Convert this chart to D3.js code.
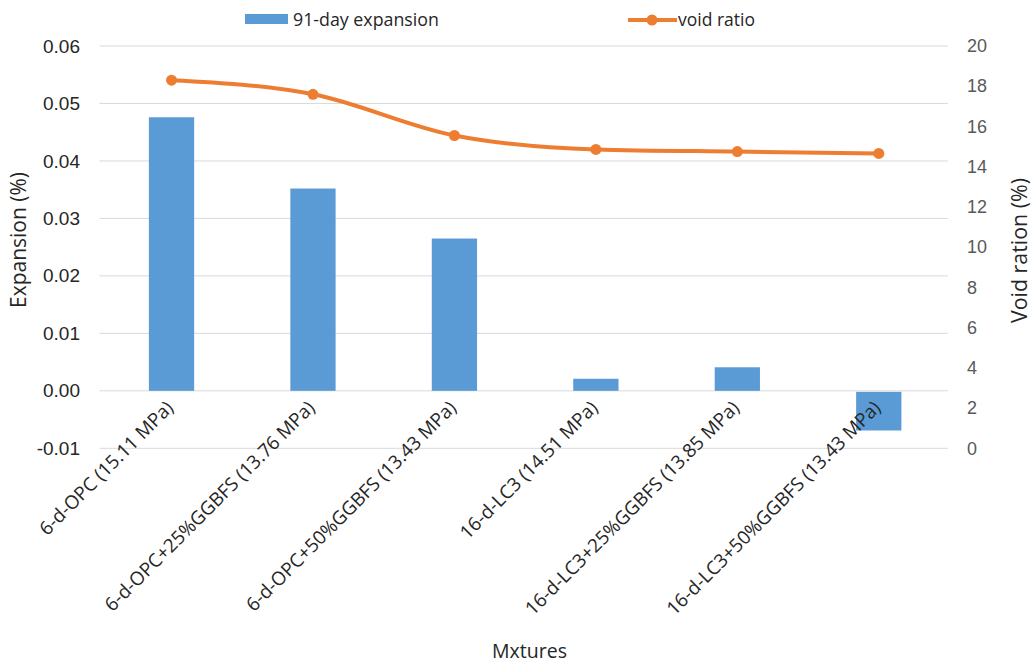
<!DOCTYPE html>
<html>
<head>
<meta charset="utf-8">
<script src="https://cdn.jsdelivr.net/npm/d3@7"></script>
<style>
  html, body { margin: 0; padding: 0; background: #fff; }
  svg { display: block; font-family: "Open Sans", "Liberation Sans", sans-serif; }
</style>
</head>
<body>
<svg id="chart" width="1035" height="664"></svg>
<script>
// Mixtures on the x axis
const categories = [
  "6-d-OPC (15.11 MPa)",
  "6-d-OPC+25%GGBFS (13.76 MPa)",
  "6-d-OPC+50%GGBFS (13.43 MPa)",
  "16-d-LC3 (14.51 MPa)",
  "16-d-LC3+25%GGBFS (13.85 MPa)",
  "16-d-LC3+50%GGBFS (13.43 MPa)"
];
// 91-day expansion (%), left axis
const expansion = [0.0476, 0.0352, 0.0265, 0.0021, 0.0041, -0.0069];
// Void ratio (%), right axis
const voidRatio = [18.3, 17.6, 15.55, 14.86, 14.75, 14.66];
// Tick labels
const leftTicks = [-0.01, 0.00, 0.01, 0.02, 0.03, 0.04, 0.05, 0.06];
const rightTicks = [0, 2, 4, 6, 8, 10, 12, 14, 16, 18, 20];

const svg = d3.select("#chart");
const gridLeft = 99.5, gridRight = 947.7, plotTop = 46, plotBottom = 448.3;

const x = d3.scaleBand().domain(categories).range([100.8, 949.5]).padding(0);
const yL = d3.scaleLinear().domain([-0.01, 0.06]).range([plotBottom, plotTop]);
const yR = d3.scaleLinear().domain([0, 20]).range([plotBottom, plotTop]);
const cx = d => x(d) + x.bandwidth() / 2;

const blue = "#5B9BD5", orange = "#ED7D31", ink = "#262626";

// scale a text's font size so that it spans the given length
function fitFont(sel, length) {
  sel.each(function () {
    const t = d3.select(this);
    const fs = parseFloat(t.attr("font-size"));
    const w = this.getComputedTextLength();
    if (w > 0) t.attr("font-size", fs * length / w);
  });
  return sel;
}

// gridlines
svg.append("g").selectAll("line").data(leftTicks).join("line")
  .attr("x1", gridLeft).attr("x2", gridRight)
  .attr("y1", d => yL(d)).attr("y2", d => yL(d))
  .attr("stroke", "#D9D9D9").attr("stroke-width", 1);

// left axis labels
const fmtL = d => d3.format(".2f")(d).replace("\u2212", "-");
const axL = svg.append("g").attr("transform", `translate(${gridLeft},0)`)
  .call(d3.axisLeft(yL).tickValues(leftTicks).tickFormat(fmtL).tickSize(0).tickPadding(19.5));
axL.select(".domain").remove();
const lt = axL.selectAll("text").attr("font-size", 18).attr("fill", ink)
  .attr("font-family", "'Liberation Sans', sans-serif");
fitFont(lt.filter(d => d === 0.06), 37);
lt.attr("font-size", axL.selectAll("text").filter(d => d === 0.06).attr("font-size"));

// right axis labels
const axR = svg.append("g").attr("transform", `translate(${gridRight},0)`)
  .call(d3.axisRight(yR).tickValues(rightTicks).tickFormat(d3.format("d")).tickSize(0).tickPadding(19.3));
axR.select(".domain").remove();
const rt = axR.selectAll("text").attr("font-size", 18).attr("fill", "#595959");
fitFont(rt.filter(d => d === 20), 20);
rt.attr("font-size", axR.selectAll("text").filter(d => d === 20).attr("font-size"));

// bars
const bw = x.bandwidth() * 0.32;
svg.append("g").selectAll("rect").data(categories).join("rect")
  .attr("x", d => cx(d) - bw / 2)
  .attr("width", bw)
  .attr("y", (d, i) => expansion[i] >= 0 ? yL(expansion[i]) : yL(0) + 1)
  .attr("height", (d, i) => Math.abs(yL(expansion[i]) - yL(0)) - (expansion[i] < 0 ? 1 : 0))
  .attr("fill", blue);

// void ratio line (smoothed) with markers
const pts = categories.map((c, i) => [cx(c), yR(voidRatio[i])]);
svg.append("path")
  .attr("d", d3.line().curve(d3.curveMonotoneX)(pts))
  .attr("fill", "none").attr("stroke", orange).attr("stroke-width", 4)
  .attr("stroke-linejoin", "round").attr("stroke-linecap", "round");
svg.append("g").selectAll("circle").data(pts).join("circle")
  .attr("cx", d => d[0]).attr("cy", d => d[1]).attr("r", 5.5).attr("fill", orange);

// category labels, rotated
const cl = svg.append("g").selectAll("text").data(categories).join("text")
  .attr("transform", d => `translate(${cx(d) + 3},409) rotate(-45)`)
  .attr("text-anchor", "end")
  .attr("font-size", 18).attr("fill", ink)
  .text(d => d);
fitFont(cl.filter((d, i) => i === 1), 288);
cl.attr("font-size", cl.filter((d, i) => i === 1).attr("font-size"));

// axis titles
fitFont(svg.append("text").attr("transform", "translate(26,240) rotate(-90)")
  .attr("text-anchor", "middle").attr("font-size", 20).attr("fill", ink)
  .text("Expansion (%)"), 136);
fitFont(svg.append("text").attr("transform", "translate(1027,250.5) rotate(-90)")
  .attr("text-anchor", "middle").attr("font-size", 20).attr("fill", ink)
  .text("Void ration (%)"), 145);
fitFont(svg.append("text").attr("x", 529.5).attr("y", 658)
  .attr("text-anchor", "middle").attr("font-size", 20).attr("fill", ink)
  .text("Mxtures"), 75);

// legend
const lg = svg.append("g");
lg.append("rect").attr("x", 245).attr("y", 14).attr("width", 43).attr("height", 10).attr("fill", blue);
fitFont(lg.append("text").attr("x", 293).attr("y", 26).attr("font-size", 17).attr("fill", ink)
  .text("91-day expansion"), 146);
lg.append("line").attr("x1", 628).attr("x2", 677).attr("y1", 20).attr("y2", 20)
  .attr("stroke", orange).attr("stroke-width", 4);
lg.append("circle").attr("cx", 652).attr("cy", 20).attr("r", 5.5).attr("fill", orange);
fitFont(lg.append("text").attr("x", 678).attr("y", 26).attr("font-size", 17).attr("fill", ink)
  .text("void ratio"), 77);
</script>
</body>
</html>
